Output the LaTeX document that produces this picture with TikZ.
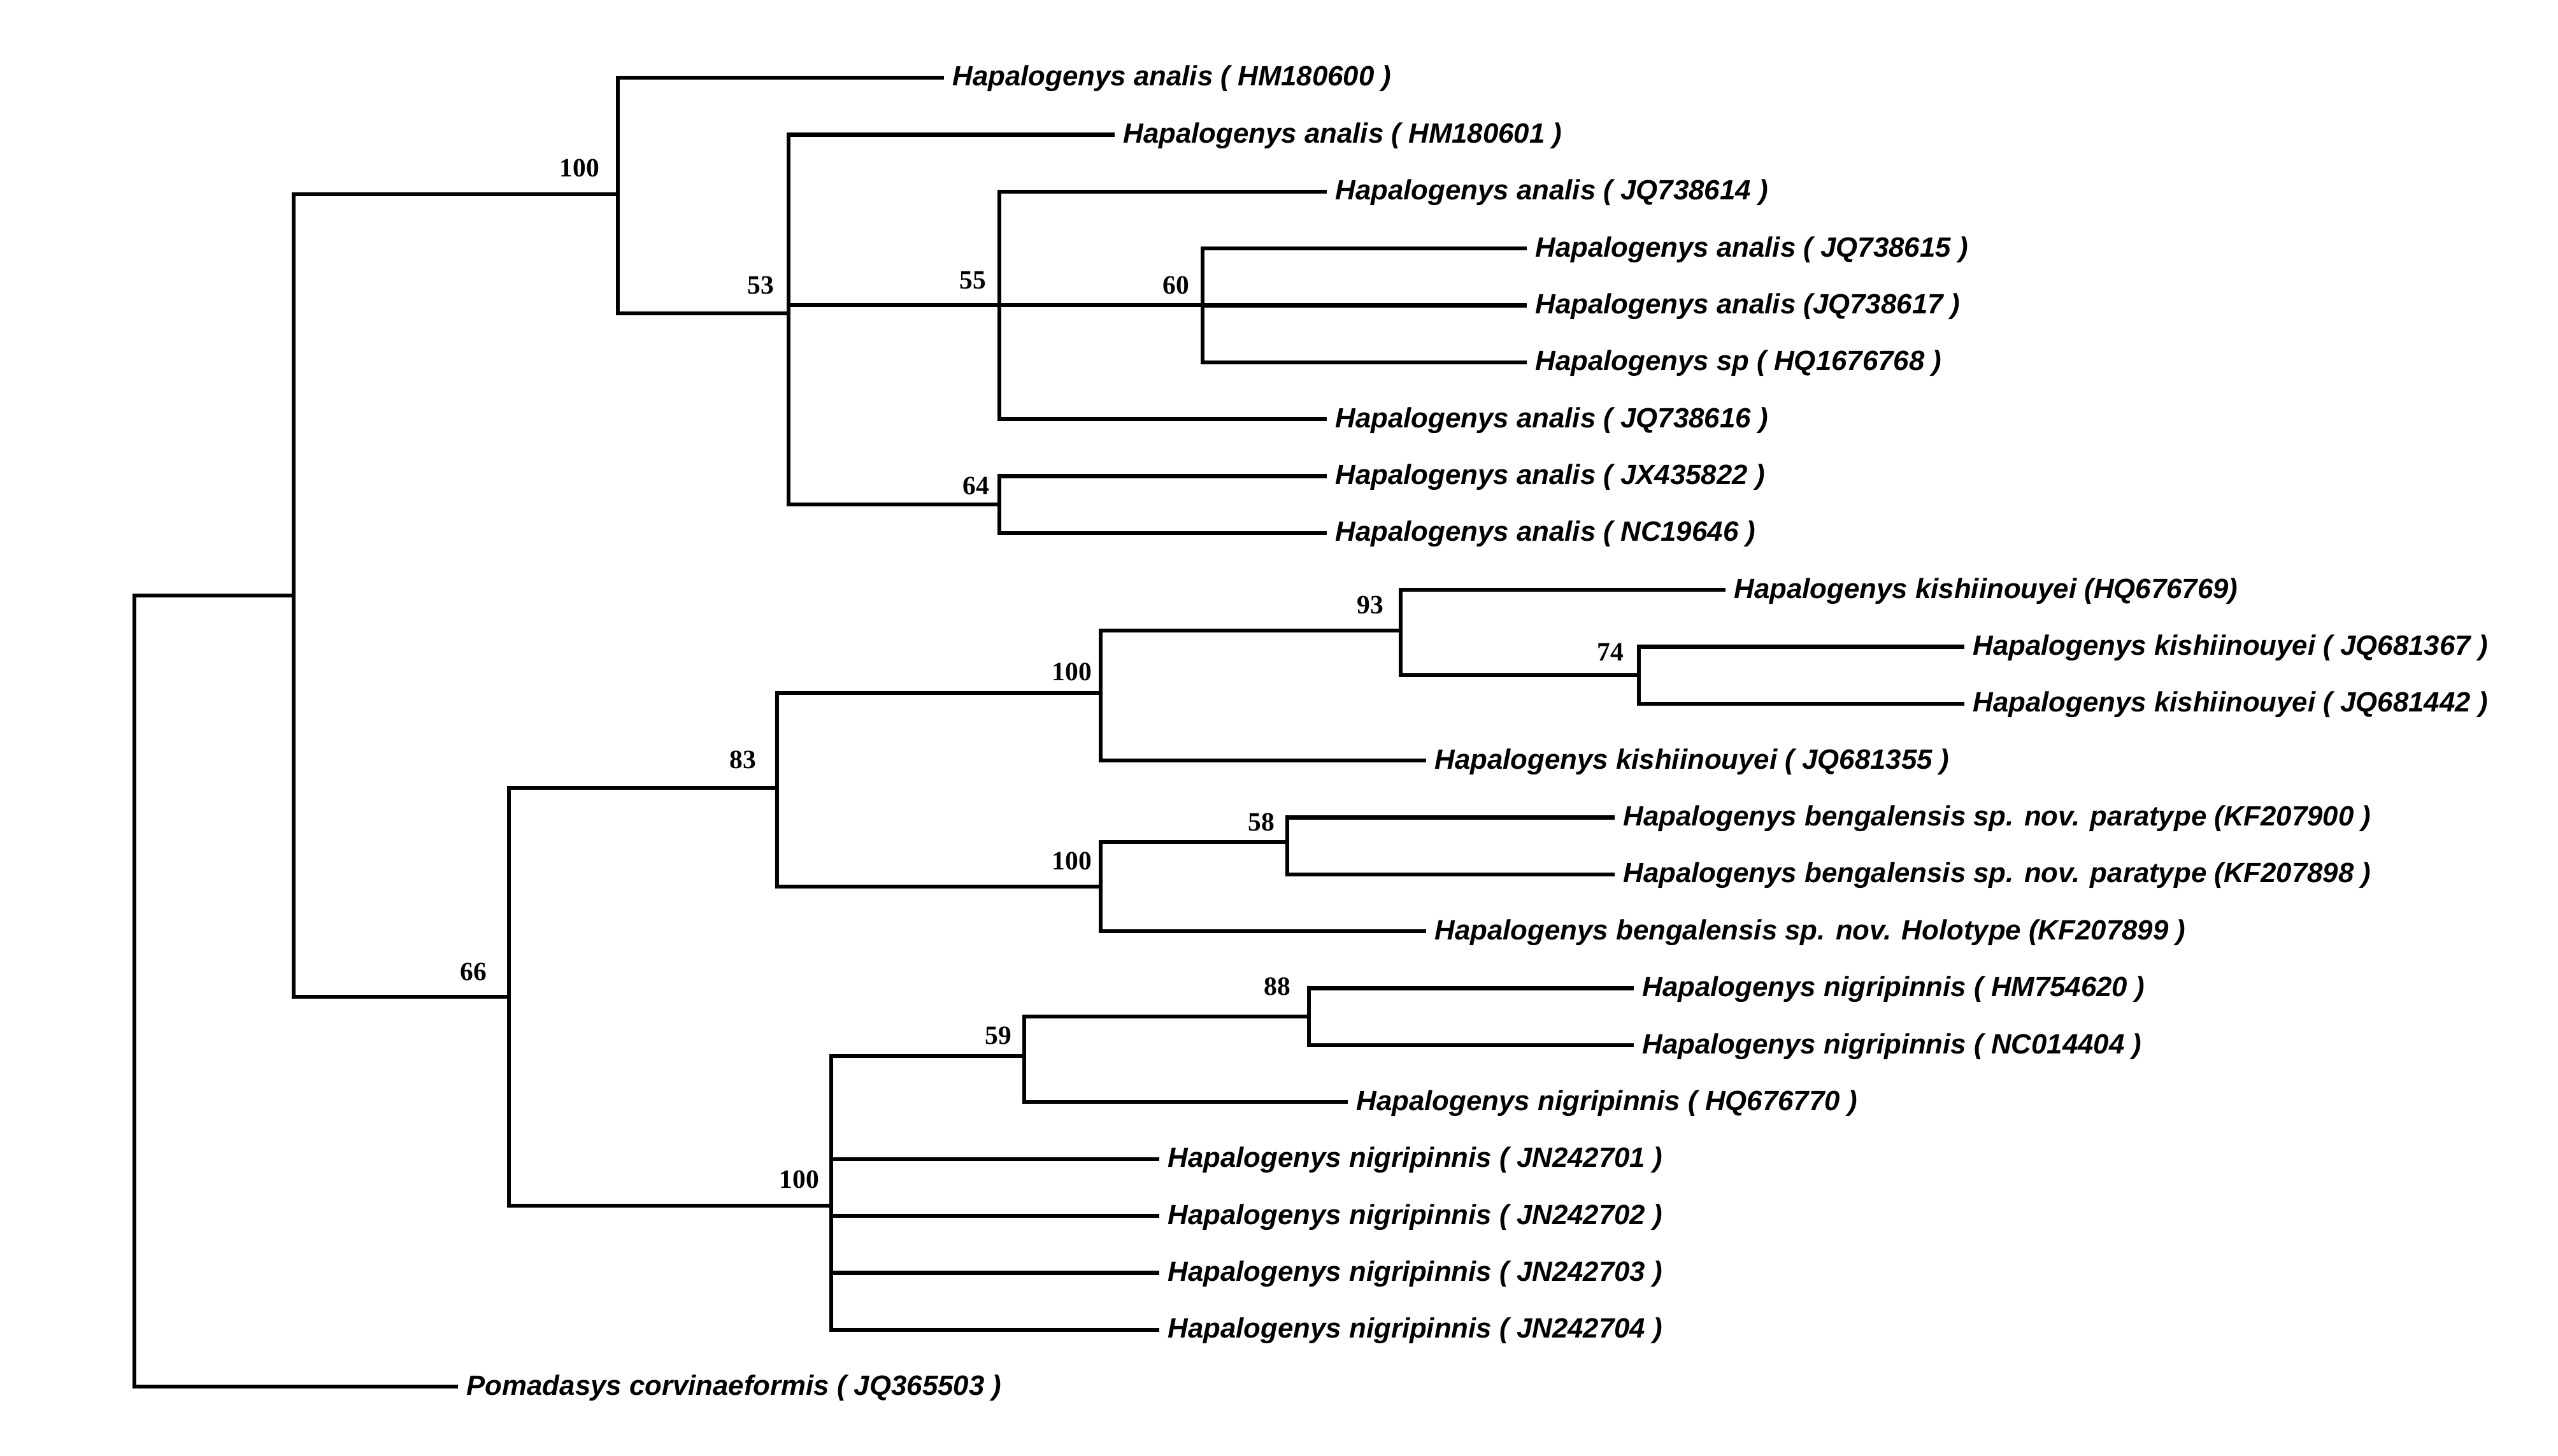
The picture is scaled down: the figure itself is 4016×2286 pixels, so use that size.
\documentclass[tikz,border=0pt]{standalone}
\usepackage{fontspec}
\newfontfamily\labfont{Liberation Sans}
\newfontfamily\numfont{Liberation Serif}
\begin{document}
\begin{tikzpicture}[x=0.01cm,y=-0.01cm,
  branch/.style={line width=1.8pt,line join=miter,line cap=rect},
  taxon/.style={anchor=base west,inner sep=0pt,font=\labfont\bfseries\itshape\fontsize{12.45}{15}\selectfont},
  boot/.style={inner sep=0pt,font=\numfont\bfseries\fontsize{11.8}{14}\selectfont}]
\useasboundingbox[fill=white] (0,0) rectangle (4016,2286);
% internal nodes
\coordinate (R) at (211,935);
\coordinate (I) at (461,935);
\coordinate (A100) at (970,305);
\coordinate (N53) at (1238,492);
\coordinate (N55) at (1569,479);
\coordinate (N60) at (1888,479);
\coordinate (N64) at (1569,792);
\coordinate (N66) at (799,1565);
\coordinate (N83) at (1220,1237);
\coordinate (K100) at (1728,1088);
\coordinate (N93) at (2199,990);
\coordinate (N74) at (2573,1060);
\coordinate (B100) at (1728,1392);
\coordinate (N58) at (2021,1322);
\coordinate (G100) at (1305,1893);
\coordinate (N59) at (1608,1658);
\coordinate (N88) at (2055,1596);
% leaf tips
\coordinate (t0) at (1479,122.0);
\coordinate (t1) at (1747,211.4);
\coordinate (t2) at (2080,300.7);
\coordinate (t3) at (2394,390.1);
\coordinate (t4) at (2394,479.4);
\coordinate (t5) at (2394,568.8);
\coordinate (t6) at (2080,658.1);
\coordinate (t7) at (2080,747.5);
\coordinate (t8) at (2080,836.8);
\coordinate (t9) at (2706,926.2);
\coordinate (t10) at (3081,1015.5);
\coordinate (t11) at (3081,1104.9);
\coordinate (t12) at (2236,1194.2);
\coordinate (t13) at (2532,1283.6);
\coordinate (t14) at (2532,1372.9);
\coordinate (t15) at (2236,1462.3);
\coordinate (t16) at (2562,1551.6);
\coordinate (t17) at (2562,1641.0);
\coordinate (t18) at (2113,1730.3);
\coordinate (t19) at (1817,1819.7);
\coordinate (t20) at (1817,1909.0);
\coordinate (t21) at (1817,1998.4);
\coordinate (t22) at (1817,2087.7);
\coordinate (t23) at (716,2177.1);
% branches
\draw[branch] (R) |- (I);
\draw[branch] (R) |- (t23);
\draw[branch] (I) |- (A100);
\draw[branch] (I) |- (N66);
\draw[branch] (A100) |- (t0);
\draw[branch] (A100) |- (N53);
\draw[branch] (N53) |- (t1);
\draw[branch] (N53) |- (N55);
\draw[branch] (N53) |- (N64);
\draw[branch] (N55) |- (t2);
\draw[branch] (N55) |- (N60);
\draw[branch] (N55) |- (t6);
\draw[branch] (N60) |- (t3);
\draw[branch] (N60) |- (t4);
\draw[branch] (N60) |- (t5);
\draw[branch] (N64) |- (t7);
\draw[branch] (N64) |- (t8);
\draw[branch] (N66) |- (N83);
\draw[branch] (N66) |- (G100);
\draw[branch] (N83) |- (K100);
\draw[branch] (N83) |- (B100);
\draw[branch] (K100) |- (N93);
\draw[branch] (K100) |- (t12);
\draw[branch] (N93) |- (t9);
\draw[branch] (N93) |- (N74);
\draw[branch] (N74) |- (t10);
\draw[branch] (N74) |- (t11);
\draw[branch] (B100) |- (N58);
\draw[branch] (B100) |- (t15);
\draw[branch] (N58) |- (t13);
\draw[branch] (N58) |- (t14);
\draw[branch] (G100) |- (N59);
\draw[branch] (G100) |- (t19);
\draw[branch] (G100) |- (t20);
\draw[branch] (G100) |- (t21);
\draw[branch] (G100) |- (t22);
\draw[branch] (N59) |- (N88);
\draw[branch] (N59) |- (t18);
\draw[branch] (N88) |- (t16);
\draw[branch] (N88) |- (t17);
% taxon labels
\node[taxon] (l0) at ([shift={(16,13)}]t0) {Hapalogenys analis ( HM180600 )};
\node[taxon] (l1) at ([shift={(16,13)}]t1) {Hapalogenys analis ( HM180601 )};
\node[taxon] (l2) at ([shift={(16,13)}]t2) {Hapalogenys analis ( JQ738614 )};
\node[taxon] (l3) at ([shift={(16,13)}]t3) {Hapalogenys analis ( JQ738615 )};
\node[taxon] (l4) at ([shift={(16,13)}]t4) {Hapalogenys analis (JQ738617 )};
\node[taxon] (l5) at ([shift={(16,13)}]t5) {Hapalogenys sp ( HQ1676768 )};
\node[taxon] (l6) at ([shift={(16,13)}]t6) {Hapalogenys analis ( JQ738616 )};
\node[taxon] (l7) at ([shift={(16,13)}]t7) {Hapalogenys analis ( JX435822 )};
\node[taxon] (l8) at ([shift={(16,13)}]t8) {Hapalogenys analis ( NC19646 )};
\node[taxon] (l9) at ([shift={(16,13)}]t9) {Hapalogenys kishiinouyei (HQ676769)};
\node[taxon] (l10) at ([shift={(16,13)}]t10) {Hapalogenys kishiinouyei ( JQ681367 )};
\node[taxon] (l11) at ([shift={(16,13)}]t11) {Hapalogenys kishiinouyei ( JQ681442 )};
\node[taxon] (l12) at ([shift={(16,13)}]t12) {Hapalogenys kishiinouyei ( JQ681355 )};
\node[taxon] (l13) at ([shift={(16,13)}]t13) {Hapalogenys bengalensis sp. nov. paratype (KF207900 )};
\node[taxon] (l14) at ([shift={(16,13)}]t14) {Hapalogenys bengalensis sp. nov. paratype (KF207898 )};
\node[taxon] (l15) at ([shift={(16,13)}]t15) {Hapalogenys bengalensis sp. nov. Holotype (KF207899 )};
\node[taxon] (l16) at ([shift={(16,13)}]t16) {Hapalogenys nigripinnis ( HM754620 )};
\node[taxon] (l17) at ([shift={(16,13)}]t17) {Hapalogenys nigripinnis ( NC014404 )};
\node[taxon] (l18) at ([shift={(16,13)}]t18) {Hapalogenys nigripinnis ( HQ676770 )};
\node[taxon] (l19) at ([shift={(16,13)}]t19) {Hapalogenys nigripinnis ( JN242701 )};
\node[taxon] (l20) at ([shift={(16,13)}]t20) {Hapalogenys nigripinnis ( JN242702 )};
\node[taxon] (l21) at ([shift={(16,13)}]t21) {Hapalogenys nigripinnis ( JN242703 )};
\node[taxon] (l22) at ([shift={(16,13)}]t22) {Hapalogenys nigripinnis ( JN242704 )};
\node[taxon] (l23) at ([shift={(16,13)}]t23) {Pomadasys corvinaeformis ( JQ365503 )};
% bootstrap values
\node[boot] (b1) at (910,264) {100};
\node[boot] (b2) at (1194,448) {53};
\node[boot] (b3) at (1527,440) {55};
\node[boot] (b4) at (1846,448) {60};
\node[boot] (b5) at (1532,763) {64};
\node[boot] (b6) at (2151,950) {93};
\node[boot] (b7) at (2528,1024) {74};
\node[boot] (b8) at (1683,1055) {100};
\node[boot] (b9) at (1166,1193) {83};
\node[boot] (b10) at (1980,1291) {58};
\node[boot] (b11) at (1683,1352) {100};
\node[boot] (b12) at (743,1526) {66};
\node[boot] (b13) at (2005,1549) {88};
\node[boot] (b14) at (1567,1626) {59};
\node[boot] (b15) at (1255,1852) {100};
\end{tikzpicture}
\end{document}
